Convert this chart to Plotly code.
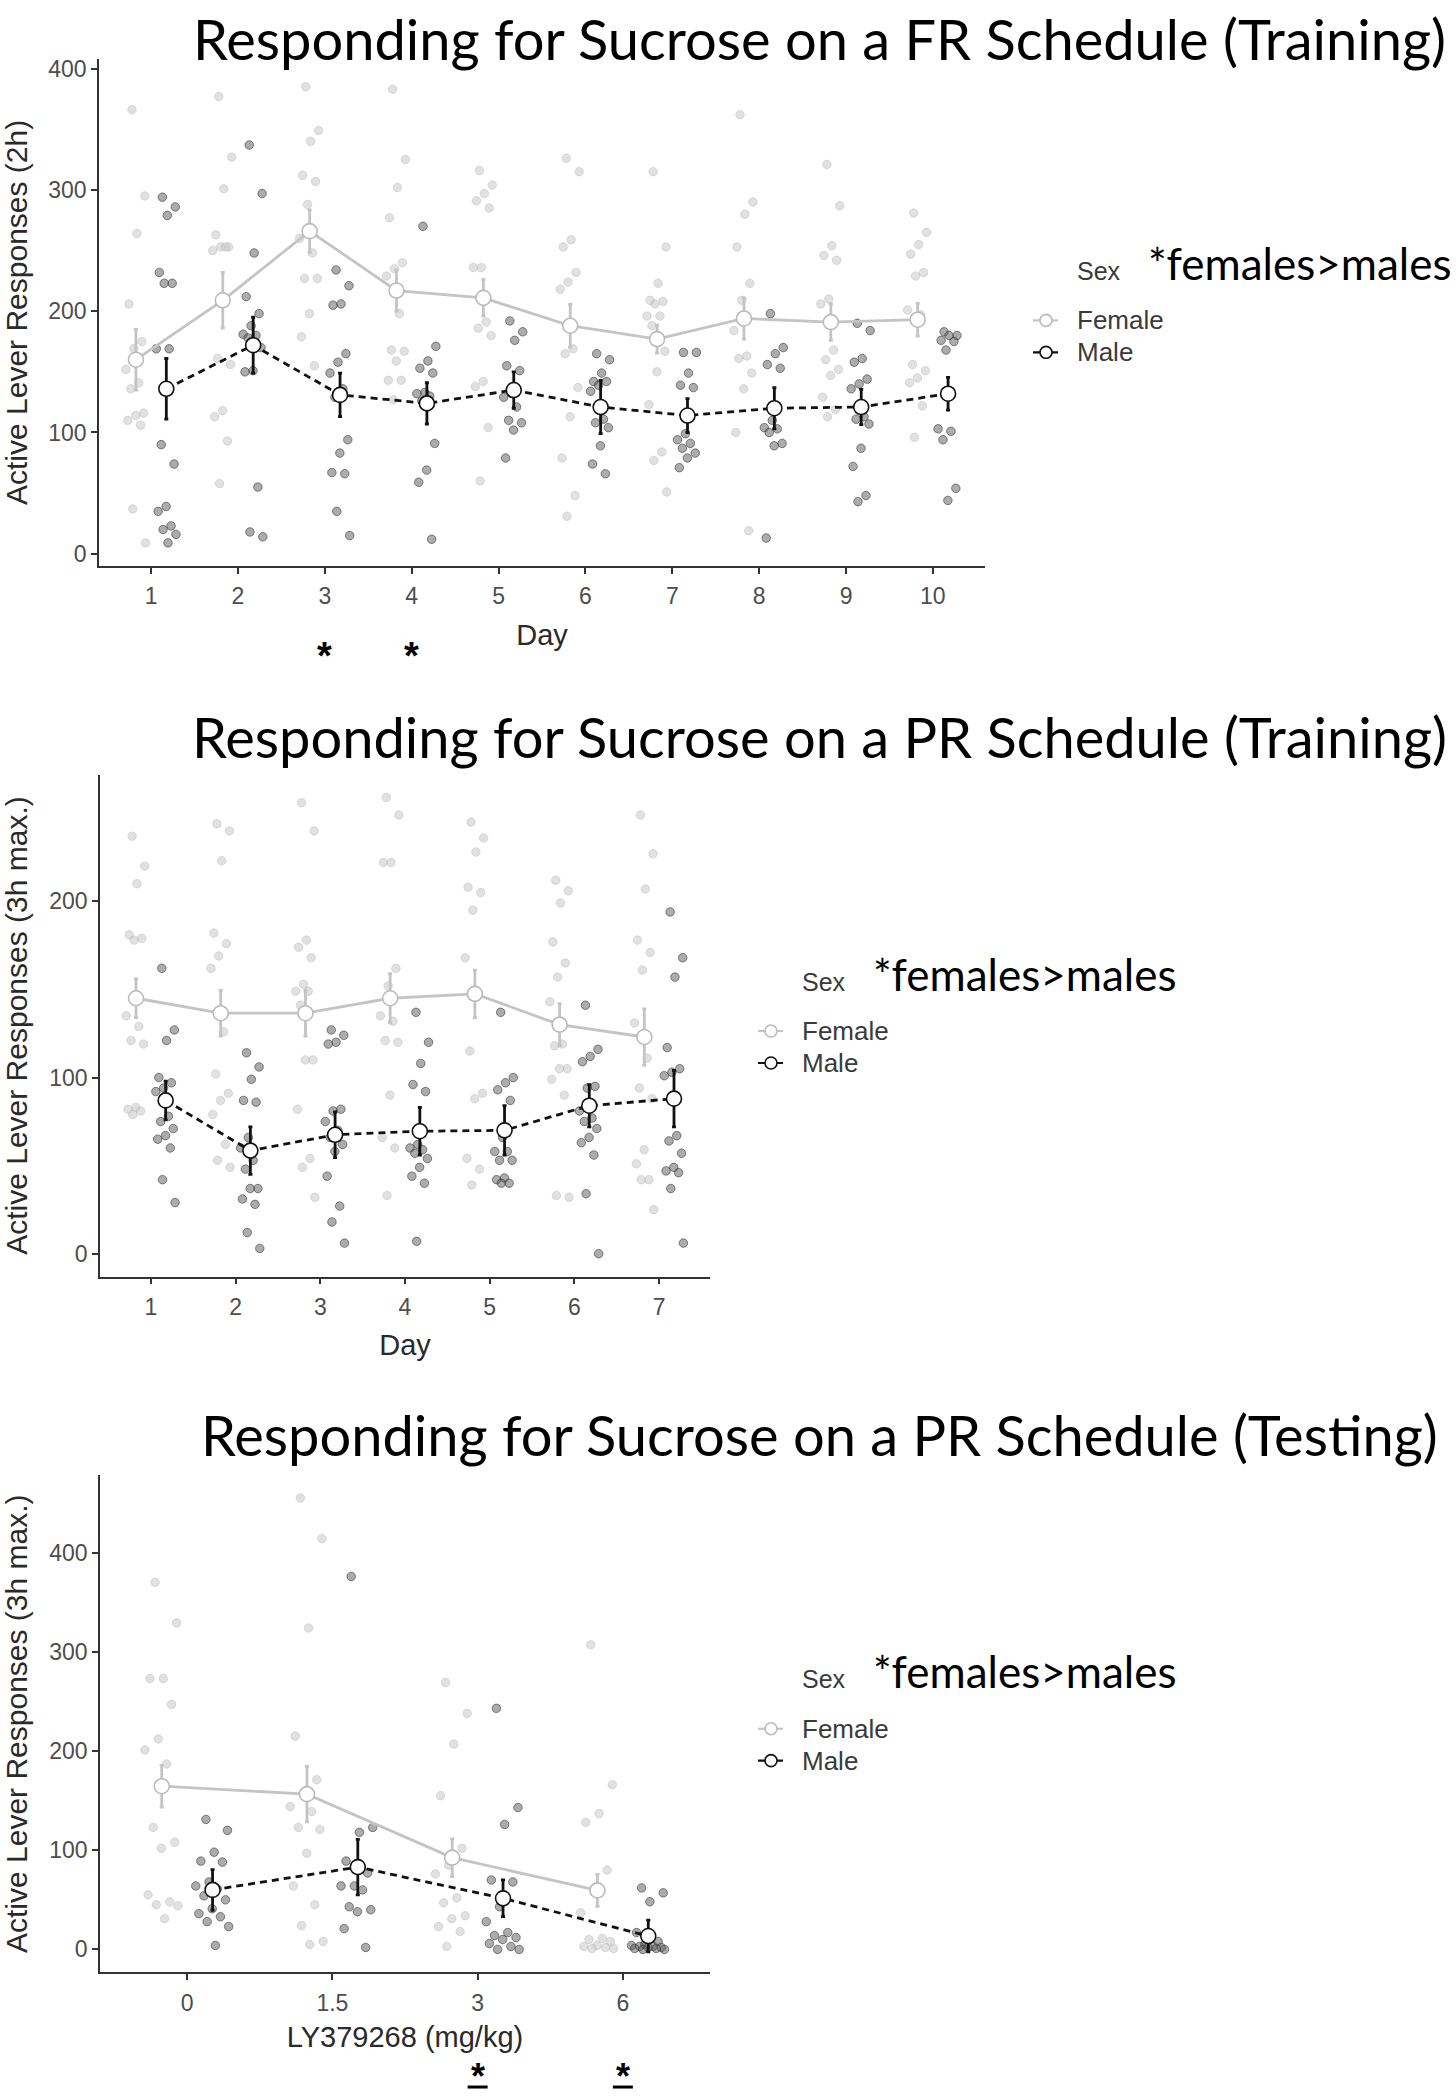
import plotly.graph_objects as go

W, H = 1456, 2100

# ---------------- Panel 1: FR training ----------------
fr_days = [1, 2, 3, 4, 5, 6, 7, 8, 9, 10]
fr_female_mean = [160, 209, 266, 217, 211, 188, 177, 194, 191, 193]
fr_female_sem = [25, 23, 17.5, 17, 15, 17.5, 11.5, 17, 15, 13.5]
fr_male_mean = [136, 172, 131, 124, 135, 121, 114, 120, 121, 132]
fr_male_sem = [25, 23, 18, 17, 15, 22, 14, 17, 14.5, 13.5]
fr_female_points = [
    [366, 295, 264, 206, 175, 169, 152, 141, 136, 116, 114, 110, 106, 37, 9],
    [377, 327, 301, 263, 253, 253, 250, 253, 161, 156, 118, 113, 93, 58],
    [385, 349, 340, 312, 307, 288, 260, 248, 227, 227, 198, 179, 155],
    [383, 325, 302, 277, 240, 235, 229, 198, 168, 167, 159, 143, 143, 127],
    [316, 304, 297, 291, 285, 236, 236, 191, 186, 180, 142, 138, 104, 60],
    [326, 315, 259, 253, 232, 224, 218, 169, 165, 137, 113, 79, 48, 31],
    [315, 253, 223, 209, 208, 206, 196, 196, 188, 167, 150, 123, 84, 77, 51],
    [362, 290, 280, 253, 223, 209, 184, 163, 161, 149, 136, 100, 19],
    [321, 287, 254, 246, 242, 210, 206, 168, 160, 152, 147, 129, 119, 113],
    [281, 265, 255, 247, 232, 229, 201, 197, 156, 151, 145, 141, 122, 96],
]
fr_male_points = [
    [294, 286, 279, 232, 223, 223, 169, 169, 90, 74, 39, 35, 23, 20, 16, 9],
    [337, 297, 248, 212, 198, 188, 181, 180, 178, 170, 151, 150, 55, 18, 14],
    [234, 221, 206, 205, 165, 158, 149, 136, 129, 94, 83, 67, 66, 35, 15],
    [270, 171, 159, 153, 149, 133, 132, 130, 126, 91, 69, 59, 12],
    [192, 183, 176, 155, 151, 132, 129, 121, 110, 108, 102, 79],
    [165, 160, 149, 142, 142, 139, 134, 111, 108, 104, 89, 74, 66],
    [166, 166, 149, 139, 137, 99, 94, 91, 87, 83, 79, 71],
    [198, 170, 165, 156, 153, 110, 104, 103, 100, 91, 89, 13],
    [190, 184, 161, 158, 144, 140, 136, 113, 111, 107, 87, 72, 48, 43],
    [183, 180, 180, 176, 175, 168, 103, 101, 94, 54, 44],
]

# ---------------- Panel 2: PR training ----------------
pr_days = [1, 2, 3, 4, 5, 6, 7]
pr_female_mean = [145, 136.5, 136.5, 145, 147.5, 130, 123]
pr_female_sem = [11, 13, 13, 14, 13.5, 12, 16]
pr_male_mean = [87, 58.5, 67.5, 69.5, 70, 84, 88]
pr_male_sem = [11, 13.5, 13, 13.5, 14, 12, 16]
pr_female_points = [
    [237, 220, 210, 181, 179, 178, 135, 129, 121, 119, 83, 82, 81, 79],
    [244, 240, 223, 182, 176, 169, 162, 126, 102, 91, 87, 79, 62, 53, 49],
    [256, 240, 178, 174, 168, 153, 149, 149, 141, 110, 110, 82, 54, 49, 32],
    [259, 249, 222, 222, 162, 152, 135, 132, 121, 120, 90, 66, 60, 33],
    [245, 236, 228, 208, 205, 195, 168, 147, 115, 91, 88, 54, 48, 39],
    [212, 206, 199, 177, 165, 157, 143, 119, 118, 105, 105, 99, 90, 33, 32],
    [249, 227, 207, 178, 171, 161, 131, 111, 94, 88, 59, 51, 42, 42, 25],
]
pr_male_points = [
    [162, 127, 121, 100, 97, 94, 92, 78, 75, 71, 67, 65, 60, 42, 29],
    [114, 106, 99, 87, 86, 66, 60, 53, 48, 37, 37, 31, 28, 12, 3],
    [127, 124, 120, 119, 82, 81, 75, 70, 66, 62, 58, 44, 27, 18, 6],
    [137, 120, 108, 96, 92, 62, 60, 59, 57, 54, 49, 44, 40, 7],
    [137, 100, 97, 93, 87, 66, 58, 58, 53, 53, 43, 42, 40, 40],
    [141, 116, 112, 109, 95, 94, 81, 77, 75, 71, 66, 63, 56, 34, 0],
    [194, 168, 157, 117, 105, 103, 101, 67, 64, 57, 49, 47, 46, 37, 6],
]

# ---------------- Panel 3: PR testing ----------------
dose_labels = ["0", "1.5", "3", "6"]
dose_pos = [1, 2, 3, 4]
te_female_mean = [164.5, 156.5, 92.5, 59.5]
te_female_sem = [21, 28, 19, 16]
te_male_mean = [60, 83, 51.5, 13.5]
te_male_sem = [20.5, 28, 18.5, 16]
te_female_points = [
    [370, 329, 273, 273, 247, 212, 201, 187, 123, 108, 102, 55, 48, 45, 44, 31],
    [455, 414, 324, 215, 171, 158, 144, 139, 123, 121, 97, 64, 45, 24, 8, 5],
    [269, 238, 207, 155, 102, 85, 76, 52, 47, 34, 31, 23, 18, 3],
    [307, 166, 137, 128, 80, 61, 37, 11, 10, 8, 4, 3, 2, 1, 1],
]
te_male_points = [
    [131, 120, 98, 89, 88, 68, 64, 61, 54, 50, 41, 36, 33, 28, 23, 4],
    [376, 123, 118, 89, 77, 64, 64, 60, 43, 40, 38, 21, 2],
    [243, 143, 126, 70, 68, 43, 28, 17, 14, 12, 10, 6, 3, 0, 0],
    [62, 57, 48, 17, 8, 5, 4, 3, 3, 2, 2, 1, 1, 0, 0],
]

TITLES = [
    "Responding for Sucrose on a FR Schedule (Training)",
    "Responding for Sucrose on a PR Schedule (Training)",
    "Responding for Sucrose on a PR Schedule (Testing)",
]
Y_TITLES = ["Active Lever Responses (2h)", "Active Lever Responses (3h max.)",
            "Active Lever Responses (3h max.)"]
X_TITLES = ["Day", "Day", "LY379268 (mg/kg)"]

# ---------------- styling ----------------
FEM_LINE = "#c4c4c4"
MALE_LINE = "#111111"
DODGE = 0.175
AX_COL = "#333333"
TICK_FONT = dict(family="Liberation Sans, Arial, sans-serif", size=23, color="#4d4d4d")
XT_FONT = dict(family="Liberation Sans, Arial, sans-serif", size=29, color="#2a2a2a")
YT_FONT = dict(family="Liberation Sans, Arial, sans-serif", size=30, color="#2a2a2a")
TITLE_FONT = dict(family="Lato, sans-serif", size=56, color="black")


def px(x):
    return x / W


def py(y):
    return 1 - y / H


def jitter(n):
    return [((k * 0.618034 + 0.31) % 1 - 0.5) * 0.24 for k in range(n)]


fig = go.Figure()

panels = [
    dict(pos=fr_days, labels=[str(d) for d in fr_days],
         fm=fr_female_mean, fs=fr_female_sem, mm=fr_male_mean, ms=fr_male_sem,
         fp=fr_female_points, mp=fr_male_points,
         xdom=(99, 985), ydom=(56, 564), yrange=(-10, 408), ytick=[0, 100, 200, 300, 400],
         xrange=(0.4, 10.6), title_top=0, leg=(1046, 275, 318, 350), sex_x=1075),
    dict(pos=pr_days, labels=[str(d) for d in pr_days],
         fm=pr_female_mean, fs=pr_female_sem, mm=pr_male_mean, ms=pr_male_sem,
         fp=pr_female_points, mp=pr_male_points,
         xdom=(100, 710), ydom=(773, 1276), yrange=(-13, 272), ytick=[0, 100, 200],
         xrange=(0.4, 7.6), title_top=699, leg=(771, 987, 1030, 1062), sex_x=800),
    dict(pos=dose_pos, labels=dose_labels,
         fm=te_female_mean, fs=te_female_sem, mm=te_male_mean, ms=te_male_sem,
         fp=te_female_points, mp=te_male_points,
         xdom=(100, 710), ydom=(1475, 1973), yrange=(-23, 478), ytick=[0, 100, 200, 300, 400],
         xrange=(0.4, 4.6), title_top=1399, leg=(771, 1685, 1729, 1761), sex_x=800),
]

layout_axes = {}
annotations = []
shapes = []

for i, p in enumerate(panels):
    n = i + 1
    xa = "x" if n == 1 else f"x{n}"
    ya = "y" if n == 1 else f"y{n}"

    # individual points
    fx, fy, mx, my = [], [], [], []
    for pos, vals in zip(p["pos"], p["fp"]):
        for off, v in zip(jitter(len(vals)), vals):
            fx.append(pos - DODGE + off)
            fy.append(v)
    for pos, vals in zip(p["pos"], p["mp"]):
        for off, v in zip(jitter(len(vals)), vals):
            mx.append(pos + DODGE + off)
            my.append(v)
    fig.add_trace(go.Scatter(
        x=fx, y=fy, xaxis=xa, yaxis=ya, mode="markers", showlegend=False,
        marker=dict(size=8.5, color="rgba(195,195,195,0.5)",
                    line=dict(color="rgba(170,170,170,0.35)", width=1)),
        hoverinfo="skip"))
    fig.add_trace(go.Scatter(
        x=mx, y=my, xaxis=xa, yaxis=ya, mode="markers", showlegend=False,
        marker=dict(size=8.5, color="rgba(90,90,90,0.5)",
                    line=dict(color="rgba(45,45,45,0.55)", width=1)),
        hoverinfo="skip"))

    # means with SEM
    fig.add_trace(go.Scatter(
        x=[v - DODGE for v in p["pos"]], y=p["fm"], xaxis=xa, yaxis=ya,
        mode="lines+markers", name="Female", showlegend=False,
        line=dict(color=FEM_LINE, width=2.8),
        marker=dict(size=15, color="white", line=dict(color="#bbbbbb", width=1.6)),
        error_y=dict(type="data", array=p["fs"], color=FEM_LINE, thickness=2.8, width=2)))
    fig.add_trace(go.Scatter(
        x=[v + DODGE for v in p["pos"]], y=p["mm"], xaxis=xa, yaxis=ya,
        mode="lines+markers", name="Male", showlegend=False,
        line=dict(color=MALE_LINE, width=2.8, dash="7px,5px"),
        marker=dict(size=15, color="white", line=dict(color=MALE_LINE, width=1.6)),
        error_y=dict(type="data", array=p["ms"], color=MALE_LINE, thickness=2.8, width=2)))

    xkey = "xaxis" if n == 1 else f"xaxis{n}"
    ykey = "yaxis" if n == 1 else f"yaxis{n}"
    layout_axes[xkey] = dict(
        domain=[px(p["xdom"][0]), px(p["xdom"][1])], anchor=ya, range=list(p["xrange"]),
        tickmode="array", tickvals=p["pos"], ticktext=p["labels"],
        showline=True, linecolor=AX_COL, linewidth=1.5, ticks="outside", ticklen=6,
        tickwidth=1.5, tickcolor=AX_COL, tickfont=TICK_FONT, showgrid=False, zeroline=False,
        ticklabelstandoff=3,
        title=dict(text=X_TITLES[i], font=XT_FONT, standoff=12 if n == 3 else 16))
    layout_axes[ykey] = dict(
        domain=[py(p["ydom"][1]), py(p["ydom"][0])], anchor=xa, range=list(p["yrange"]),
        tickmode="array", tickvals=p["ytick"], ticktext=[str(t) for t in p["ytick"]],
        showline=True, linecolor=AX_COL, linewidth=1.5, ticks="outside", ticklen=6,
        tickwidth=1.5, tickcolor=AX_COL, tickfont=TICK_FONT, showgrid=False, zeroline=False,
        ticklabelstandoff=0,
        title=dict(text=Y_TITLES[i], font=YT_FONT, standoff=15))

    # panel title
    annotations.append(dict(
        text=TITLES[i], xref="paper", yref="paper", x=px(819), y=py(p["title_top"]),
        xanchor="center", yanchor="top", showarrow=False, font=TITLE_FONT))

    # legend (manual): "Sex" + note, then keys
    cx, ysex, yf, ym = p["leg"]
    annotations.append(dict(
        text="Sex&nbsp;&nbsp;&nbsp;&nbsp;<span style='font-family:Lato;font-size:44px;color:black'>*females&gt;males</span>",
        xref="paper", yref="paper", x=px(p["sex_x"]), y=py(ysex + 14), xanchor="left",
        yanchor="bottom", showarrow=False,
        font=dict(family="Liberation Sans, Arial, sans-serif", size=25, color="#3a3a3a")))
    for label, yy, col, dash, ocol in [("Female", yf, FEM_LINE, "solid", "#bbbbbb"),
                                        ("Male", ym, MALE_LINE, "dash", MALE_LINE)]:
        shapes.append(dict(type="line", xref="paper", yref="paper",
                           x0=px(cx - 13), x1=px(cx + 12), y0=py(yy), y1=py(yy),
                           line=dict(color=col, width=2.2, dash=dash)))
        shapes.append(dict(type="circle", xref="paper", yref="paper",
                           x0=px(cx - 6), x1=px(cx + 6), y0=py(yy + 6), y1=py(yy - 6),
                           fillcolor="white", line=dict(color=ocol, width=1.6)))
        annotations.append(dict(
            text=label, xref="paper", yref="paper", x=px(p["sex_x"]), y=py(yy),
            xanchor="left", yanchor="middle", showarrow=False,
            font=dict(family="Liberation Sans, Arial, sans-serif", size=26, color="#3a3a3a")))

# significance markers
for d in [3, 4]:
    annotations.append(dict(text="<b>*</b>", xref="x", yref="paper", x=d, y=py(654),
                            xanchor="center", yanchor="middle", showarrow=False,
                            font=dict(family="Liberation Sans, Arial, sans-serif",
                                      size=38, color="black")))
for d in [3, 4]:
    annotations.append(dict(text="<b>*</b>", xref="x3", yref="paper", x=d, y=0,
                            xanchor="center", yanchor="bottom", showarrow=False,
                            font=dict(family="Liberation Sans, Arial, sans-serif",
                                      size=36, color="black")))
    shapes.append(dict(type="line", xref="x3", yref="paper", xsizemode="pixel",
                       xanchor=d, x0=-10, x1=10, y0=py(2088), y1=py(2088),
                       line=dict(color="black", width=3)))

fig.update_layout(
    width=W, height=H, autosize=False, margin=dict(l=0, r=0, t=0, b=0),
    paper_bgcolor="white", plot_bgcolor="white", showlegend=False,
    annotations=annotations, shapes=shapes, **layout_axes)

fig.write_html("out.html", config={"displayModeBar": False},
               post_script="document.body.style.margin='0';document.body.style.padding='0';")
